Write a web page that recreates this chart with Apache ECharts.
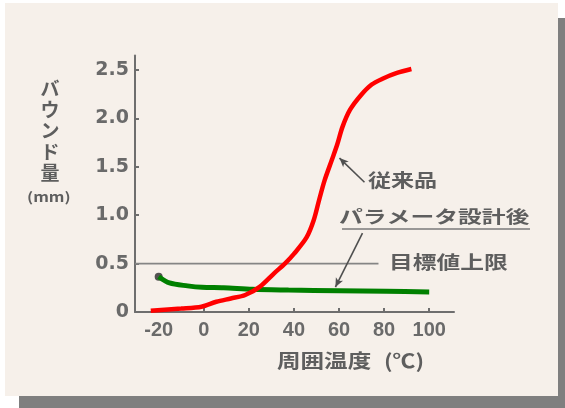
<!DOCTYPE html>
<html>
<head>
<meta charset="utf-8">
<script src="https://cdn.jsdelivr.net/npm/echarts@6/dist/echarts.min.js"></script>
<style>
  html, body { margin: 0; padding: 0; background: #ffffff; }
  #wrap { position: relative; width: 565px; height: 408px; overflow: hidden; }
  #shadow { position: absolute; left: 19px; top: 18px; width: 546px; height: 390px; background: #7f7f7f; }
  #panel { position: absolute; left: 5px; top: 3px; width: 553px; height: 393px; background: #f6f0ea; }
  #chart { position: absolute; left: 0; top: 0; width: 565px; height: 408px; }
</style>
</head>
<body>
<div id="wrap">
  <div id="shadow"></div>
  <div id="panel"></div>
  <div id="chart"></div>
</div>
<script>
// Axis ranges and tick values
const xMin = -30.5;
const xMax = 111;
const yMin = 0;
const yMax = 2.65;
const xTicks = [-20, 0, 20, 40, 60, 80, 100];
const yTicks = [0, 0.5, 1.0, 1.5, 2.0, 2.5];

// 従来品: bounce amount (mm) vs ambient temperature (℃)
const conventional = [
  [-23.5, 0.013], [-10, 0.035], [-1, 0.055], [5.6, 0.106], [12, 0.14],
  [18.4, 0.176], [24.8, 0.26], [31.2, 0.40], [36, 0.50], [40, 0.60],
  [45.6, 0.77], [48.8, 0.95], [51.2, 1.16], [53.6, 1.36], [56.8, 1.57],
  [59.2, 1.73], [61.5, 1.91], [64.9, 2.09], [69.7, 2.24], [74.5, 2.35],
  [79.3, 2.41], [85.7, 2.47], [92.1, 2.51]
];

// パラメータ設計後
const optimized = [
  [-20, 0.365], [-15.2, 0.30], [-7.2, 0.27], [-0.8, 0.255], [8.8, 0.25],
  [21.6, 0.234], [37.6, 0.227], [60, 0.22], [80.9, 0.214], [100, 0.207]
];

// 目標値上限 line
const targetLimit = 0.5;
const targetLineEnd = 77.5;

// Leader lines: [arrow end, label end]
const leaderConventional = [[60.2, 1.59], [71.3, 1.34]];
const leaderOptimized = [[58.4, 0.258], [70.4, 0.816]];

const textColor = '#5e5e5e';
const cjk = '"Noto Sans CJK JP", "Noto Sans CJK SC", sans-serif';

const chart = echarts.init(document.getElementById('chart'), null, { renderer: 'canvas' });

function leader(pts) {
  return [
    { coord: pts[0], symbol: 'arrow', symbolSize: [6, 9] },
    { coord: pts[1], symbol: 'none' }
  ];
}

chart.setOption({
  backgroundColor: 'transparent',
  animation: false,
  grid: { left: 135, right: 111, top: 55.5, bottom: 96, outerBoundsMode: 'none' },
  xAxis: {
    type: 'value',
    min: xMin,
    max: xMax,
    splitLine: { show: false },
    axisLine: { show: true, onZero: false, lineStyle: { color: '#6e6e6e', width: 2 } },
    axisTick: { show: true, inside: true, length: 4, customValues: xTicks, lineStyle: { color: '#6e6e6e', width: 2 } },
    axisLabel: {
      customValues: xTicks,
      margin: 8,
      color: '#6a6a6a',
      fontFamily: '"Liberation Sans", Arial, sans-serif',
      fontSize: 20,
      fontWeight: 'bold'
    }
  },
  yAxis: {
    type: 'value',
    min: yMin,
    max: yMax,
    splitLine: { show: false },
    axisLine: { show: true, onZero: false, lineStyle: { color: '#6e6e6e', width: 2 } },
    axisTick: { show: true, inside: true, length: 4, customValues: yTicks, lineStyle: { color: '#6e6e6e', width: 2 } },
    axisLabel: {
      customValues: yTicks,
      margin: 6,
      color: '#6a6a6a',
      fontFamily: '"DejaVu Sans", sans-serif',
      fontSize: 19,
      fontWeight: 'bold',
      formatter: v => (v === 0 ? '0' : v.toFixed(1))
    }
  },
  series: [
    {
      name: '目標値上限',
      type: 'line',
      data: [[xMin, targetLimit], [targetLineEnd, targetLimit]],
      symbol: 'none',
      lineStyle: { color: '#858585', width: 1.6 },
      z: 1,
      markLine: {
        silent: true,
        animation: false,
        label: { show: false },
        lineStyle: { color: '#505050', width: 1.6, type: 'solid' },
        data: [leader(leaderConventional), leader(leaderOptimized)]
      }
    },
    {
      name: 'start',
      type: 'scatter',
      data: [optimized[0]],
      symbolSize: 8,
      itemStyle: { color: '#2a2a2a' },
      z: 2
    },
    {
      name: 'パラメータ設計後',
      type: 'line',
      data: optimized,
      smooth: 0.3,
      symbol: 'none',
      lineStyle: { color: '#008000', width: 5 },
      z: 3
    },
    {
      name: '従来品',
      type: 'line',
      data: conventional,
      smooth: 0.3,
      symbol: 'none',
      lineStyle: { color: '#ff0000', width: 4.5 },
      z: 4
    }
  ],
  graphic: [
    // y-axis name (vertical)
    {
      type: 'text', x: 50, y: 78,
      style: { text: 'バ\nウ\nン\nド\n量', fill: textColor, font: 'bold 19px ' + cjk, textAlign: 'center', textVerticalAlign: 'top', lineHeight: 21 }
    },
    {
      type: 'text', x: 27, y: 197, scaleX: 1.25,
      style: { text: '(mm)', fill: textColor, font: 'bold 13px ' + cjk, textAlign: 'left', textVerticalAlign: 'middle' }
    },
    // x-axis name
    {
      type: 'text', x: 277, y: 361, scaleX: 1.24,
      style: { text: '周囲温度', fill: textColor, font: 'bold 19px ' + cjk, textAlign: 'left', textVerticalAlign: 'middle' }
    },
    {
      type: 'text', x: 384, y: 361, scaleX: 1.2,
      style: { text: '(℃)', fill: textColor, font: 'bold 19px ' + cjk, textAlign: 'left', textVerticalAlign: 'middle' }
    },
    // annotations
    {
      type: 'text', x: 368, y: 180, scaleX: 1.28,
      style: { text: '従来品', fill: textColor, font: 'bold 18px ' + cjk, textAlign: 'left', textVerticalAlign: 'middle' }
    },
    {
      type: 'text', x: 339, y: 217, scaleX: 1.4,
      style: { text: 'パラメータ設計後', fill: textColor, font: 'bold 17px ' + cjk, textAlign: 'left', textVerticalAlign: 'middle' }
    },
    {
      type: 'line',
      shape: { x1: 342, y1: 229, x2: 530, y2: 229 },
      style: { stroke: '#7a7a7a', lineWidth: 1.3 }
    },
    {
      type: 'text', x: 389, y: 262, scaleX: 1.32,
      style: { text: '目標値上限', fill: textColor, font: 'bold 18px ' + cjk, textAlign: 'left', textVerticalAlign: 'middle' }
    }
  ]
});
</script>
</body>
</html>
